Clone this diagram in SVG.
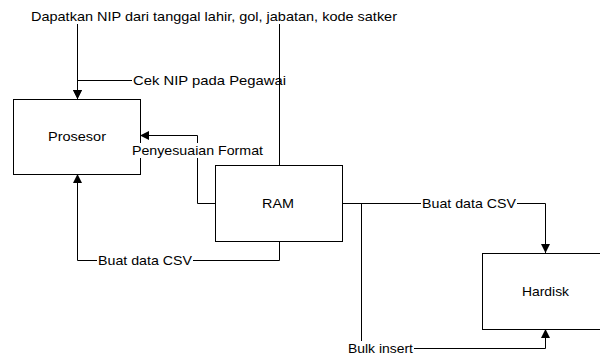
<svg xmlns="http://www.w3.org/2000/svg" width="600" height="356" viewBox="0 0 600 356">
<style>
.box{fill:#fff;stroke:#000;stroke-width:1}
.ln{fill:none;stroke:#000;stroke-width:1}
.t{font-family:"Liberation Sans",Arial,sans-serif;font-size:13.5px;fill:#000;text-anchor:middle}
.bg{fill:#fff}
</style>
<defs>
<marker id="arr" viewBox="0 0 10 10" refX="10" refY="5" markerWidth="10" markerHeight="9" markerUnits="userSpaceOnUse" orient="auto">
<path d="M0,0 L10,5 L0,10 z" fill="#000"/>
</marker>
</defs>
<rect width="600" height="356" fill="#fff"/>
<g id="prosesor">
<rect class="box" x="13.5" y="99.5" width="127" height="75"/>
<text class="t" x="77" y="141" textLength="58" lengthAdjust="spacingAndGlyphs">Prosesor</text>
</g>
<g id="ram">
<rect class="box" x="215.5" y="165.5" width="127" height="76"/>
<text class="t" x="278" y="208" textLength="32" lengthAdjust="spacingAndGlyphs">RAM</text>
</g>
<g id="hardisk">
<rect class="box" x="482.5" y="253.5" width="127" height="76"/>
<text class="t" x="545.5" y="296" textLength="47" lengthAdjust="spacingAndGlyphs">Hardisk</text>
</g>
<g id="connectors">
<path class="ln" d="M279.5,165 V80.5 H77.5 V99" marker-end="url(#arr)"/>
<rect class="bg" x="132" y="73" width="155" height="15"/>
<text class="t" x="209.5" y="85" textLength="153" lengthAdjust="spacingAndGlyphs">Cek NIP pada Pegawai</text>
<path class="ln" d="M279.5,165 V17.5 H77.5 V99" marker-end="url(#arr)"/>
<rect class="bg" x="30" y="9" width="369" height="15"/>
<text class="t" x="214" y="21" textLength="366" lengthAdjust="spacingAndGlyphs">Dapatkan NIP dari tanggal lahir, gol, jabatan, kode satker</text>
<path class="ln" d="M215,203.5 H197.5 V135.5 H140" marker-end="url(#arr)"/>
<rect class="bg" x="130" y="143" width="135" height="15"/>
<text class="t" x="197.5" y="155" textLength="131" lengthAdjust="spacingAndGlyphs">Penyesuaian Format</text>
<path class="ln" d="M279.5,241 V260.5 H77.5 V174" marker-end="url(#arr)"/>
<rect class="bg" x="97" y="253" width="96" height="15"/>
<text class="t" x="145" y="265" textLength="94" lengthAdjust="spacingAndGlyphs">Buat data CSV</text>
<path class="ln" d="M342,203.5 H545.5 V253" marker-end="url(#arr)"/>
<rect class="bg" x="421" y="196" width="96" height="15"/>
<text class="t" x="469" y="208" textLength="94" lengthAdjust="spacingAndGlyphs">Buat data CSV</text>
<path class="ln" d="M342,203.5 H361.5 V348.5 H545.5 V329" marker-end="url(#arr)"/>
<rect class="bg" x="347" y="341" width="67" height="15"/>
<text class="t" x="380.5" y="353" textLength="65" lengthAdjust="spacingAndGlyphs">Bulk insert</text>
</g>
</svg>
